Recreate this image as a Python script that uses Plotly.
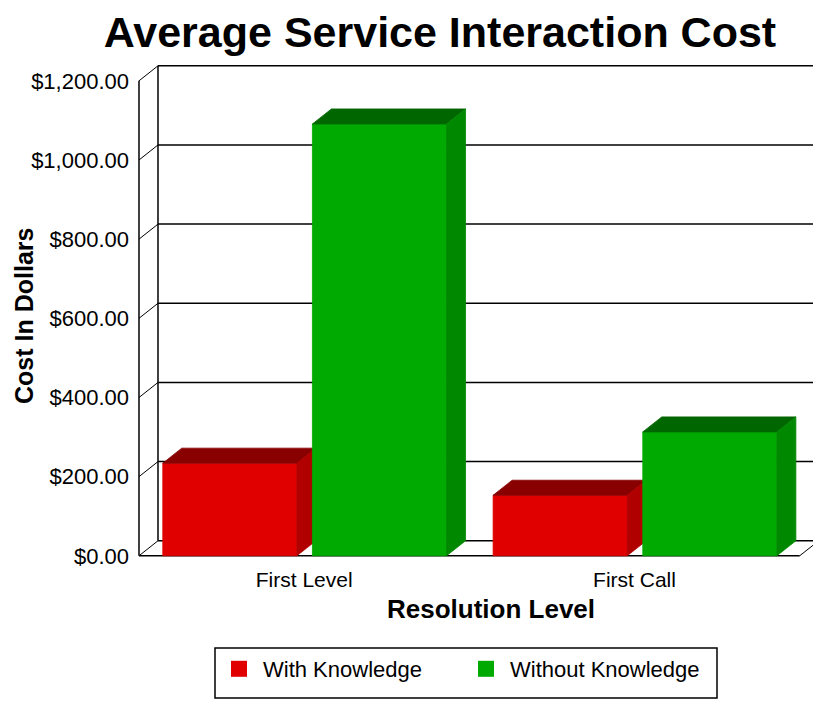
import plotly.graph_objects as go

# ---- data ----
categories = ["First Level", "First Call"]
series_names = ["With Knowledge", "Without Knowledge"]
with_knowledge = [234, 153]
without_knowledge = [1091, 313]
y_tick_values = [0, 200, 400, 600, 800, 1000, 1200]
y_tick_labels = ["$0.00", "$200.00", "$400.00", "$600.00", "$800.00", "$1,000.00", "$1,200.00"]
chart_title = "Average Service Interaction Cost"
x_title = "Resolution Level"
y_title = "Cost In Dollars"

# ---- styles ----
FONT = "Liberation Sans, Arial, sans-serif"
FRONT = ["#E00000", "#00AA00"]
TOP = ["#880000", "#006600"]
SIDE = ["#B00000", "#008800"]

DX = 0.0575      # depth in x units
DY = 38          # depth in y units
BAR_W = 0.406
OFFSETS = [-0.428, 0.025]
X_MIN, X_MAX = -0.5, len(categories) - 0.5
Y_TOP = y_tick_values[-1]

# page body has an 8px margin, so the figure is laid out 8px up/left
ML, MT, PW, PH = 130, 57, 682, 492
W, H = 821, 702
PLOT_BOTTOM = MT + PH


def px_x(xf):  # figure pixel -> paper x
    return (xf - ML) / PW


def px_y(yf):  # figure pixel -> paper y
    return (PLOT_BOTTOM - yf) / PH


fig = go.Figure()

for s, (name, vals) in enumerate(zip(series_names, [with_knowledge, without_knowledge])):
    fx, fy, tx, ty, sx, sy = [], [], [], [], [], []
    for i, v in enumerate(vals):
        x0 = i + OFFSETS[s]
        x1 = x0 + BAR_W
        fx += [x0, x1, x1, x0, x0, None]
        fy += [0, 0, v, v, 0, None]
        tx += [x0, x1, x1 + DX, x0 + DX, x0, None]
        ty += [v, v, v + DY, v + DY, v, None]
        sx += [x1, x1 + DX, x1 + DX, x1, x1, None]
        sy += [0, DY, v + DY, v, 0, None]
    for xs, ys, col in [(fx, fy, FRONT[s]), (tx, ty, TOP[s]), (sx, sy, SIDE[s])]:
        fig.add_trace(go.Scatter(x=xs, y=ys, mode="lines", fill="toself",
                                 fillcolor=col, line=dict(color=col, width=0.8),
                                 hoverinfo="skip", showlegend=False))
    fig.add_trace(go.Scatter(x=[None], y=[None], mode="markers", name=name,
                             marker=dict(symbol="square", size=20, color=FRONT[s]),
                             hoverinfo="skip"))

# ---- 3D walls ----
shapes = []
main = dict(color="black", width=1.5)
thin = dict(color="black", width=1)
for v in y_tick_values:
    shapes.append(dict(type="line", xref="x", yref="y", layer="below",
                       x0=X_MIN + DX, x1=X_MAX + DX, y0=v + DY, y1=v + DY, line=main))
    shapes.append(dict(type="line", xref="x", yref="y", layer="below",
                       x0=X_MIN, x1=X_MIN + DX, y0=v, y1=v + DY, line=thin))
shapes += [
    dict(type="line", xref="x", yref="y", layer="below", x0=X_MIN, x1=X_MIN, y0=0, y1=Y_TOP, line=main),
    dict(type="line", xref="x", yref="y", layer="below", x0=X_MIN + DX, x1=X_MIN + DX, y0=DY, y1=Y_TOP + DY, line=main),
    dict(type="line", xref="x", yref="y", layer="below", x0=X_MAX + DX, x1=X_MAX + DX, y0=DY, y1=Y_TOP + DY, line=main),
    dict(type="line", xref="x", yref="y", layer="below", x0=X_MIN, x1=X_MAX, y0=0, y1=0, line=main),
    dict(type="line", xref="x", yref="y", layer="below", x0=X_MAX, x1=X_MAX + DX, y0=0, y1=DY, line=thin),
    # legend frame
    dict(type="rect", xref="paper", yref="paper", x0=px_x(207), x1=px_x(709),
         y0=px_y(640), y1=px_y(690), line=dict(color="black", width=1.5)),
]

fig.update_layout(
    width=W, height=H,
    margin=dict(l=ML, r=W - ML - PW, t=MT, b=H - MT - PH, autoexpand=False),
    paper_bgcolor="white", plot_bgcolor="white",
    font=dict(family=FONT, color="black"),
    title=dict(text="<b>" + chart_title + "</b>", x=432 / W, xref="container", xanchor="center",
               y=1 - 24 / H, yref="container", yanchor="middle",
               font=dict(size=43, family=FONT, color="black")),
    shapes=shapes,
    showlegend=True,
    legend=dict(orientation="h", x=px_x(207), xanchor="left", y=px_y(640), yanchor="top",
                borderwidth=0, bgcolor="rgba(0,0,0,0)",
                font=dict(size=22, family=FONT, color="black"),
                itemwidth=38, entrywidth=194, entrywidthmode="pixels"),
    annotations=[
        dict(text="<b>" + x_title + "</b>", xref="paper", yref="paper",
             x=px_x(483), y=px_y(601), xanchor="center", yanchor="middle",
             showarrow=False, font=dict(size=26, family=FONT, color="black")),
        dict(text="<b>" + y_title + "</b>", xref="paper", yref="paper", textangle=-90,
             x=px_x(16), y=px_y(308), xanchor="center", yanchor="middle",
             showarrow=False, font=dict(size=25, family=FONT, color="black")),
    ],
)
fig.update_xaxes(range=[X_MIN - 0.003, X_MAX + DX + 0.004], tickvals=list(range(len(categories))),
                 ticktext=categories, showgrid=False, zeroline=False, showline=False,
                 ticks="", ticklabelstandoff=8, tickfont=dict(size=21, family=FONT, color="black"),
                 fixedrange=True)
fig.update_yaxes(range=[-3, Y_TOP + DY + 2], tickvals=y_tick_values, ticktext=y_tick_labels,
                 showgrid=False, zeroline=False, showline=False, ticks="", ticklabelstandoff=8,
                 tickfont=dict(size=22, family=FONT, color="black"), fixedrange=True)

fig.write_html("out.html")
